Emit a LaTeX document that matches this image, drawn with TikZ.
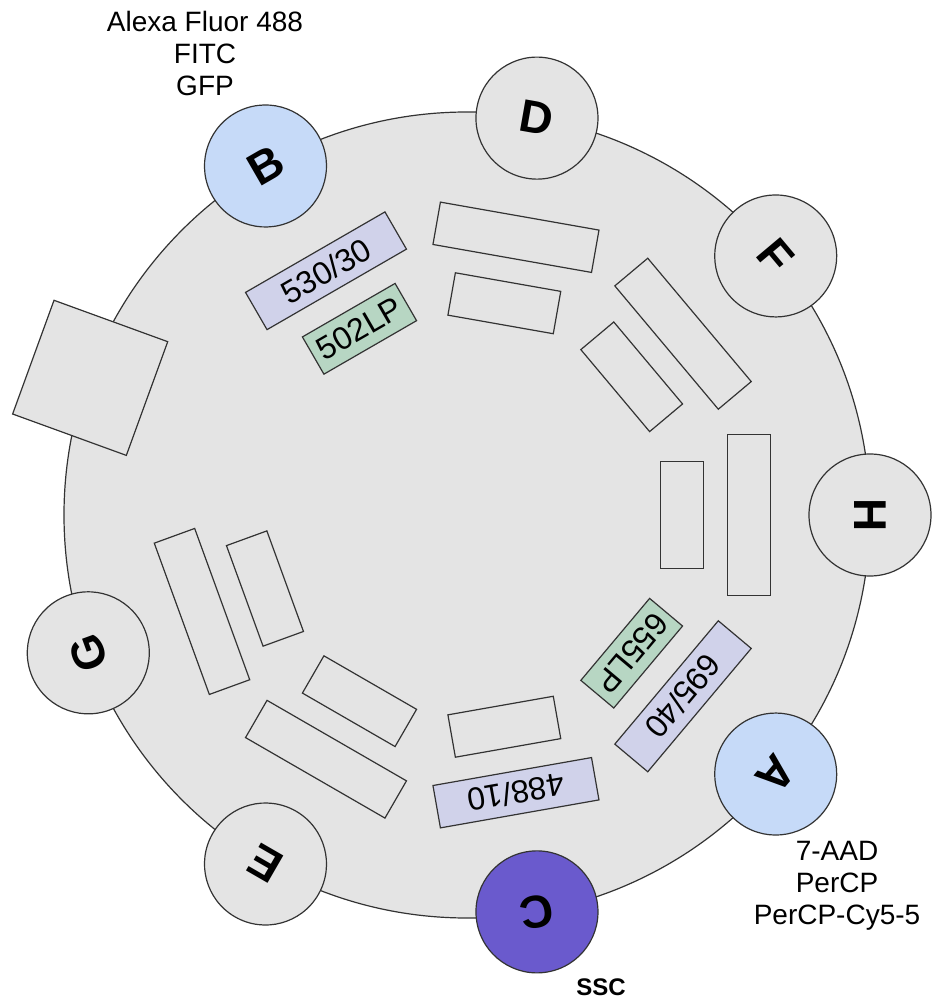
\documentclass[tikz,border=0pt]{standalone}
\usepackage{fontspec}
\setmainfont{Liberation Sans}
\usepackage{xcolor}
\usepackage{tikz}
\usetikzlibrary{positioning,calc,shapes}
\definecolor{benchgray}{RGB}{228,228,228}
\definecolor{linegray}{RGB}{51,51,51}
\definecolor{detblue}{RGB}{198,218,248}
\definecolor{sscviolet}{RGB}{106,90,205}
\definecolor{bpfilt}{RGB}{208,210,234}
\definecolor{lpfilt}{RGB}{183,214,195}
\tikzstyle{det}=[circle, draw=linegray, fill=benchgray, line width=1.2pt, minimum size=122pt, inner sep=0pt, font=\fontsize{46}{46}\selectfont\bfseries]
\tikzstyle{outr}=[rectangle, draw=linegray, fill=benchgray, line width=1.2pt, minimum width=161pt, minimum height=43pt, inner sep=0pt, font=\fontsize{32}{32}\selectfont]
\tikzstyle{innr}=[outr, minimum width=107pt]
\tikzstyle{dye}=[align=center, font=\fontsize{28}{32}\selectfont]

\begin{document}
\begin{tikzpicture}[x=1pt,y=1pt]
				\useasboundingbox (-467,-493) rectangle (466,515);
				% bench
				\node[circle, draw=linegray, fill=benchgray, line width=1.2pt, minimum size=806pt, inner sep=0pt] (bench) at (0,0) {};
				\node[rectangle, draw=linegray, fill=benchgray, line width=1.2pt, minimum size=121pt, rotate=-20] (sq) at (160:401) {};
				% detectors
				\node[det, fill=detblue, rotate=30] (B) at (120:403) {B};
				\node[det, rotate=-10] (D) at (80:403) {D};
				\node[det, rotate=-50] (F) at (40:403) {F};
				\node[det, rotate=-90] (H) at (0:403) {H};
				\node[det, fill=detblue, rotate=-130] (A) at (-40:403) {A};
				\node[det, fill=sscviolet, rotate=-170] (C) at (-80:403) {C};
				\node[det, rotate=150] (E) at (-120:403) {E};
				\node[det, rotate=110] (G) at (200:403) {G};
				% filters
				\node[outr, fill=bpfilt, rotate=30] (bpB) at (120:282) {530/30};
				\node[innr, fill=lpfilt, rotate=30] (lpB) at (120:215) {502LP};
				\node[outr, rotate=-10] (bpD) at (80:282) {};
				\node[innr, rotate=-10] (lpD) at (80:215) {};
				\node[outr, rotate=-50] (bpF) at (40:282) {};
				\node[innr, rotate=-50] (lpF) at (40:215) {};
				\node[outr, rotate=-90] (bpH) at (0:282) {};
				\node[innr, rotate=-90] (lpH) at (0:215) {};
				\node[outr, fill=bpfilt, rotate=-130] (bpA) at (-40:282) {695/40};
				\node[innr, fill=lpfilt, rotate=-130] (lpA) at (-40:215) {655LP};
				\node[outr, fill=bpfilt, rotate=-170] (bpC) at (-80:282) {488/10};
				\node[innr, rotate=-170] (lpC) at (-80:215) {};
				\node[outr, rotate=150] (bpE) at (-120:282) {};
				\node[innr, rotate=150] (lpE) at (-120:215) {};
				\node[outr, rotate=110] (bpG) at (200:282) {};
				\node[innr, rotate=110] (lpG) at (200:215) {};
				% dyes
				\node[dye] (dyeB) at (-262,461) {Alexa Fluor 488\\FITC\\GFP};
				\node[dye] (dyeA) at (370,-371) {7-AAD\\PerCP\\PerCP-Cy5-5};
				\node[font=\fontsize{24}{24}\selectfont\bfseries] (dyeC) at (134,-472) {SSC};
			\end{tikzpicture}
\end{document}
